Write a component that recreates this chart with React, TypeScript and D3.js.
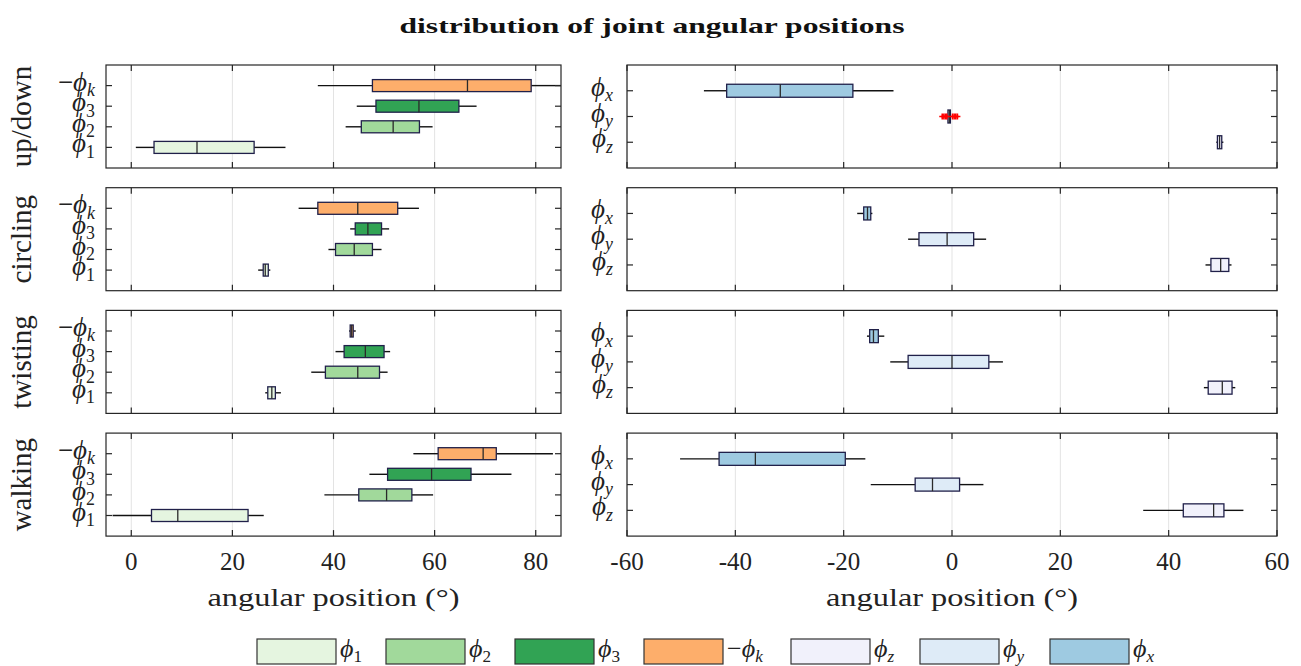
import * as d3 from 'd3'

// box stats per activity: [whisker low, q1, median, q3, whisker high]
const ACTIVITIES = ['up/down', 'circling', 'twisting', 'walking']

const PHI_1 = [[0.9, 4.5, 13, 24.3, 30.5], [25.1, 26.1, 26.5, 27.1, 27.5], [26.5, 27, 27.8, 28.5, 29.6], [-3.7, 4, 9.2, 23.1, 26.2]]
const PHI_2 = [[42.4, 45.5, 51.8, 57, 59.6], [39, 40.4, 44.1, 47.7, 49.5], [35.6, 38.4, 44.8, 49.1, 50.7], [38.2, 45, 50.5, 55.5, 59.7]]
const PHI_3 = [[44.6, 48.4, 56.9, 64.8, 68.3], [43.3, 44.3, 46.8, 49.5, 51], [40.4, 42.1, 46.3, 50, 51.2], [47.1, 50.7, 59.4, 67.2, 75.2]]
const NEG_PHI_K = [[36.9, 47.7, 66.5, 79.1, 85], [33.1, 36.9, 44.8, 52.7, 56.9], [43.1, 43.3, 43.6, 43.9, 44.4], [55.8, 60.7, 69.6, 72.2, 83.4]]

const PHI_X = [[-45.8, -41.6, -31.7, -18.3, -10.8], [-17.5, -16.3, -15.6, -15, -14.7], [-15.7, -15.2, -14.5, -13.6, -12.5], [-50.2, -43, -36.3, -19.7, -16]]
const PHI_Y = [[-0.85, -0.75, -0.5, -0.3, -0.2], [-8.1, -6.1, -0.9, 4, 6.3], [-11.4, -8.1, 0, 6.8, 9.4], [-15, -6.8, -3.6, 1.4, 5.8]]
const PHI_Z = [[48.8, 49, 49.4, 49.8, 50.1], [46.8, 47.8, 49.6, 51.1, 51.6], [46.5, 47.3, 49.9, 51.7, 52.3], [35.3, 42.7, 48.3, 50.2, 53.8]]

// outliers (phi_y, up/down)
const PHI_Y_OUTLIERS_UPDOWN = [-1.8, -1.5, -1.2, -0.95, 0.1, 0.4, 0.7, 1.0]

const LEFT_TICKS = [0, 20, 40, 60, 80]
const RIGHT_TICKS = [-60, -40, -20, 0, 20, 40, 60]

const LEFT_SERIES = [
  { key: 'k', neg: true, sub: 'k', color: '#fdae6b', stats: NEG_PHI_K },
  { key: '3', neg: false, sub: '3', color: '#31a354', stats: PHI_3 },
  { key: '2', neg: false, sub: '2', color: '#a1d99b', stats: PHI_2 },
  { key: '1', neg: false, sub: '1', color: '#e5f5e0', stats: PHI_1 },
]
const RIGHT_SERIES = [
  { key: 'x', neg: false, sub: 'x', color: '#9ecae1', stats: PHI_X },
  { key: 'y', neg: false, sub: 'y', color: '#deebf7', stats: PHI_Y },
  { key: 'z', neg: false, sub: 'z', color: '#f1f1fb', stats: PHI_Z },
]
const LEGEND_ORDER = ['1', '2', '3', 'k', 'z', 'y', 'x']

const W = 1301
const H = 666
const FONT = "'Liberation Serif', 'DejaVu Serif', serif"
const PANEL_TOP0 = 65
const PANEL_STEP = 122.7
const PANEL_H = 103
const FRAME = '#262626'
const BOX_STROKE = '#20204a'
const TICK = 6

const xLeft = d3.scaleLinear().domain([-5, 85]).range([106, 561])
const xRight = d3.scaleLinear().domain([-60, 60]).range([627, 1277])

function Phi({ x, y, neg, sub, size, anchor }) {
  const upright = /[0-9]/.test(sub)
  return (
    <text x={x} y={y} textAnchor={anchor} fontFamily={FONT} fontSize={size} fill="#222">
      {neg && <tspan>−</tspan>}
      <tspan fontStyle="italic">ϕ</tspan>
      <tspan fontStyle={upright ? 'normal' : 'italic'} fontSize={size * 0.66} dy={size * 0.2}>{sub}</tspan>
    </text>
  )
}

function Panel({ x, series, row, ticks, showAxis }) {
  const top = PANEL_TOP0 + row * PANEL_STEP
  const bottom = top + PANEL_H
  const [x0, x1] = x.range()
  const y = d3.scalePoint().domain(series.map(s => s.key)).range([top, bottom]).padding(1)
  const boxH = series.length === 4 ? 12 : 13

  return (
    <g>
      {ticks.map(t => (
        <line key={'g' + t} x1={x(t)} x2={x(t)} y1={top} y2={bottom} stroke="#e3e3e3" strokeWidth={1} />
      ))}
      {series.map(s => {
        const [lo, q1, med, q3, hi] = s.stats[row]
        const cy = y(s.key)
        return (
          <g key={s.key}>
            <line x1={x(lo)} x2={x(q1)} y1={cy} y2={cy} stroke="#111" strokeWidth={1.4} />
            <line x1={x(q3)} x2={Math.min(x(hi), x1)} y1={cy} y2={cy} stroke="#111" strokeWidth={1.4} />
            <rect x={x(q1)} y={cy - boxH / 2} width={Math.max(x(q3) - x(q1), 1.5)} height={boxH}
              fill={s.color} stroke={BOX_STROKE} strokeWidth={1.3} />
            <line x1={x(med)} x2={x(med)} y1={cy - boxH / 2} y2={cy + boxH / 2} stroke="#2a2a2a" strokeWidth={1.3} />
            {s.key === 'y' && row === 0 && PHI_Y_OUTLIERS_UPDOWN.map((v, i) => (
              <path key={i} d={`M${x(v) - 3},${cy}h6M${x(v)},${cy - 3}v6`} stroke="#ff0000" strokeWidth={1.6} />
            ))}
          </g>
        )
      })}
      <rect x={x0} y={top} width={x1 - x0} height={PANEL_H} fill="none" stroke={FRAME} strokeWidth={1.2} />
      {ticks.map(t => (
        <g key={'t' + t}>
          <line x1={x(t)} x2={x(t)} y1={bottom} y2={bottom - TICK} stroke={FRAME} strokeWidth={1.2} />
          <line x1={x(t)} x2={x(t)} y1={top} y2={top + TICK} stroke={FRAME} strokeWidth={1.2} />
        </g>
      ))}
      {series.map(s => (
        <g key={'yt' + s.key}>
          <line x1={x0} x2={x0 + TICK} y1={y(s.key)} y2={y(s.key)} stroke={FRAME} strokeWidth={1.2} />
          <line x1={x1} x2={x1 - TICK} y1={y(s.key)} y2={y(s.key)} stroke={FRAME} strokeWidth={1.2} />
          <Phi x={x0 - (series.length === 4 ? 11 : 14)} y={y(s.key) + 5} neg={s.neg} sub={s.sub} size={27} anchor="end" />
        </g>
      ))}
      {showAxis && ticks.map(t => (
        <text key={'l' + t} x={x(t)} y={bottom + 34} textAnchor="middle" fontFamily={FONT} fontSize={25} fill="#222">
          {t < 0 ? '-' + Math.abs(t) : t}
        </text>
      ))}
      {showAxis && (
        <text x={(x0 + x1) / 2} y={bottom + 70} textAnchor="middle" fontFamily={FONT} fontSize={26} fill="#222"
          textLength={252} lengthAdjust="spacingAndGlyphs">
          angular position (°)
        </text>
      )}
    </g>
  )
}

export default function App() {
  const all = [...LEFT_SERIES, ...RIGHT_SERIES]
  const legendX = [257, 386, 515, 644, 791, 920, 1050]
  return (
    <div style={{ position: 'absolute', left: 0, top: 0 }}>
      <svg width={W} height={H} style={{ display: 'block', background: '#fff' }}>
        <text x={652} y={33} textAnchor="middle" fontFamily={FONT} fontWeight="bold" fontSize={21} fill="#111"
          textLength={505} lengthAdjust="spacingAndGlyphs">
          distribution of joint angular positions
        </text>
        {ACTIVITIES.map((a, i) => {
          const cy = PANEL_TOP0 + i * PANEL_STEP + PANEL_H / 2
          return (
            <g key={a}>
              <text transform={`translate(31,${cy}) rotate(-90)`} textAnchor="middle" fontFamily={FONT} fontSize={29} fill="#222">
                {a}
              </text>
              <Panel x={xLeft} series={LEFT_SERIES} row={i} ticks={LEFT_TICKS} showAxis={i === 3} />
              <Panel x={xRight} series={RIGHT_SERIES} row={i} ticks={RIGHT_TICKS} showAxis={i === 3} />
            </g>
          )
        })}
        {LEGEND_ORDER.map((k, i) => {
          const s = all.find(d => d.key === k)
          return (
            <g key={'lg' + k}>
              <rect x={legendX[i]} y={639} width={79} height={25} fill={s.color} stroke="#333" strokeWidth={1.2} />
              <Phi x={legendX[i] + 83} y={657} neg={s.neg} sub={s.sub} size={26} anchor="start" />
            </g>
          )
        })}
      </svg>
    </div>
  )
}
